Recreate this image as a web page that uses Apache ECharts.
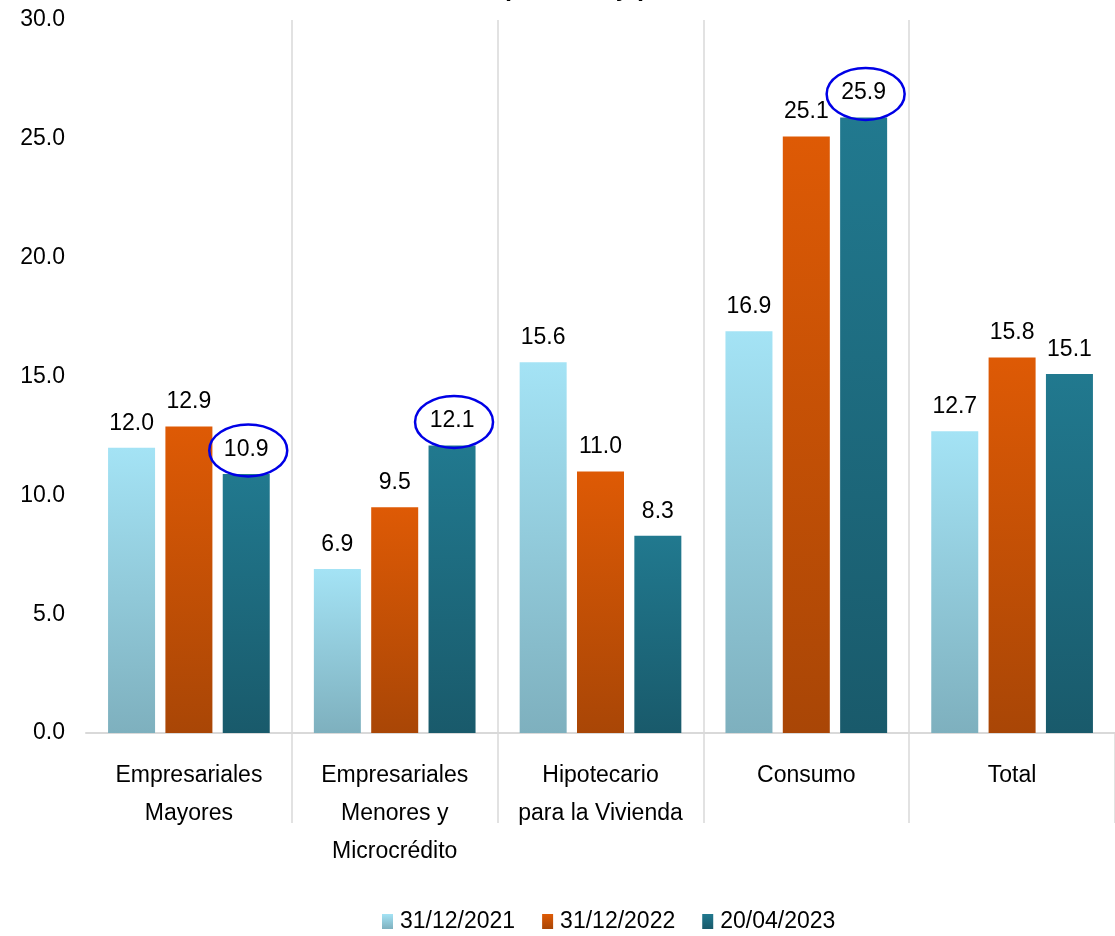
<!DOCTYPE html>
<html>
<head>
<meta charset="utf-8">
<script src="https://cdn.jsdelivr.net/npm/echarts@6/dist/echarts.min.js"></script>
<style>
html,body{margin:0;padding:0;background:#ffffff;}
#chart{width:1115px;height:936px;}
</style>
</head>
<body>
<div id="chart"></div>
<script>
// ---- data ----
const categories = ['Empresariales\nMayores', 'Empresariales\nMenores y\nMicrocrédito', 'Hipotecario\npara la Vivienda', 'Consumo', 'Total'];
const seriesNames = ['31/12/2021', '31/12/2022', '20/04/2023'];
const values2021 = [12.0, 6.9, 15.6, 16.9, 12.7];
const values2022 = [12.9, 9.5, 11.0, 25.1, 15.8];
const values2023 = [10.9, 12.1, 8.3, 25.9, 15.1];
const yTicks = [0, 5, 10, 15, 20, 25, 30];
const highlighted = [[2, 0], [2, 1], [2, 3]]; // [series, category] of circled labels
const titleText = '(Porcentaje)';

// ---- styles ----
const FONT = "'Liberation Sans', Arial, sans-serif";
const gradients = [
  ['#a4e3f5', '#7eb0be'],
  ['#de5a05', '#a94606'],
  ['#21798f', '#195a6b']
];
const FS = 23;
const LABEL_DIST = 13;

function grad(c) {
  return new echarts.graphic.LinearGradient(0, 0, 0, 1, [
    { offset: 0, color: c[0] },
    { offset: 1, color: c[1] }
  ]);
}

const allValues = [values2021, values2022, values2023];

const chart = echarts.init(document.getElementById('chart'), null, { renderer: 'canvas' });

const option = {
  animation: false,
  backgroundColor: '#ffffff',
  textStyle: { fontFamily: FONT },
  grid: { left: 86, right: 0, top: 20, bottom: 203, containLabel: false },
  legend: {
    data: seriesNames,
    left: 377,
    top: 905,
    itemWidth: 11,
    itemHeight: 15,
    itemGap: 27,
    icon: 'rect',
    textStyle: { fontFamily: FONT, fontSize: FS, color: '#000', padding: [0, 0, 0, 2] }
  },
  xAxis: {
    type: 'category',
    data: categories,
    boundaryGap: true,
    axisLine: { show: true, lineStyle: { color: '#d9d9d9', width: 2 } },
    axisTick: {
      show: true,
      length: 90,
      interval: function (i) { return i > 0; },
      lineStyle: { color: '#d9d9d9', width: 1.5 }
    },
    splitLine: {
      show: true,
      interval: 0,
      showMinLine: false,
      showMaxLine: false,
      lineStyle: { color: '#d9d9d9', width: 1.5 }
    },
    axisLabel: {
      interval: 0,
      margin: 24,
      fontFamily: FONT,
      fontSize: FS,
      lineHeight: 38,
      color: '#000'
    }
  },
  yAxis: {
    type: 'value',
    min: yTicks[0],
    max: yTicks[yTicks.length - 1],
    interval: yTicks[1] - yTicks[0],
    axisLine: { show: false },
    axisTick: { show: false },
    splitLine: { show: false },
    axisLabel: {
      margin: 21,
      fontFamily: FONT,
      fontSize: FS,
      color: '#000',
      formatter: function (v) { return v.toFixed(1); }
    }
  },
  series: seriesNames.map(function (name, s) {
    return {
      name: name,
      type: 'bar',
      data: allValues[s],
      barWidth: 47,
      barGap: '22%',
      itemStyle: { color: grad(gradients[s]) },
      label: {
        show: true,
        position: 'top',
        distance: LABEL_DIST,
        fontFamily: FONT,
        fontSize: FS,
        color: '#000',
        formatter: function (p) { return p.value.toFixed(1); }
      }
    };
  })
};

chart.setOption(option);

// circled labels, placed from the library's own bar layout
function addEllipses() {
  const els = [];
  const model = chart.getModel();
  highlighted.forEach(function (h) {
    const data = model.getSeriesByIndex(h[0]).getData();
    const lay = data.getItemLayout(h[1]);
    if (!lay) return;
    const top = Math.min(lay.y, lay.y + lay.height);
    const cx = lay.x + lay.width / 2 + 2;
    const cy = top - LABEL_DIST - FS / 2 + 1;
    els.push({
      type: 'ellipse',
      shape: { cx: cx, cy: cy, rx: 39, ry: 26 },
      style: { fill: 'none', stroke: '#0000e6', lineWidth: 2.5 },
      z: 100
    });
  });
  const xc = (chart.getWidth() + 86) / 2 - 26;
  els.push({
    type: 'text',
    x: xc,
    y: 2,
    style: {
      text: titleText,
      fontFamily: FONT,
      fontSize: 25,
      fontWeight: 'bold',
      fill: '#000',
      textAlign: 'center',
      textVerticalAlign: 'bottom'
    },
    z: 100
  });
  chart.setOption({ graphic: { elements: els } });
}
addEllipses();
</script>
</body>
</html>
